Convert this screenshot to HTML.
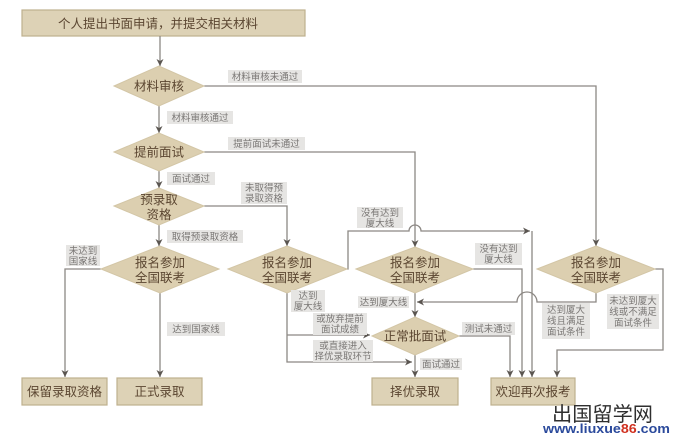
<!DOCTYPE html>
<html><head><meta charset="utf-8"><style>
html,body{margin:0;padding:0;background:#fff;}
svg{display:block;}
text{font-family:"Liberation Sans","Noto Sans CJK SC",sans-serif;}
.d{fill:#dccfb0;stroke:#d3c6a6;stroke-width:1;}
.b{fill:#ddd2b6;stroke:#bfb08e;stroke-width:1.2;}
.t{fill:#5b4631;font-size:12.5px;text-anchor:middle;}
.l{fill:#e6e5e3;}
.lt{fill:#7a7775;font-size:9.5px;text-anchor:middle;}
.ln{fill:none;stroke:#8c8884;stroke-width:1.3;}
</style></head><body>
<svg width="685" height="437" viewBox="0 0 685 437" xmlns="http://www.w3.org/2000/svg">
<defs>
<marker id="a" markerWidth="8" markerHeight="8" refX="7" refY="4" orient="auto" markerUnits="userSpaceOnUse">
<path d="M0,0.5 L7,4 L0,7.5 L2,4z" fill="#5a5550"/>
</marker>
</defs>

<!-- top box -->
<rect class="b" x="22" y="10" width="283" height="26"/>
<text class="t" x="158" y="28" font-size="12.5">个人提出书面申请，并提交相关材料</text>

<!-- connectors -->
<path class="ln" d="M160,36 L160,66" marker-end="url(#a)"/>
<path class="ln" d="M204,86 L596,86 L596,246" marker-end="url(#a)"/>
<path class="ln" d="M159,106 L159,133" marker-end="url(#a)"/>
<path class="ln" d="M204,152 L415,152 L415,247" marker-end="url(#a)"/>
<path class="ln" d="M159,171 L159,188" marker-end="url(#a)"/>
<path class="ln" d="M204,206 L287,206 L287,246" marker-end="url(#a)"/>
<path class="ln" d="M159,225 L159,246" marker-end="url(#a)"/>
<path class="ln" d="M101,269 L65,269 L65,377" marker-end="url(#a)"/>
<path class="ln" d="M160,293 L160,377" marker-end="url(#a)"/>
<path class="ln" d="M347,269 L348,269 L348,231 L409,231 A6,6 0 0 1 421,231 L530,231" marker-end="url(#a)"/>
<path class="ln" d="M532,231 L532,377" marker-end="url(#a)"/>
<path class="ln" d="M287,293 L287,362 L412,362" marker-end="url(#a)"/>
<path class="ln" d="M287,335 L370,335" marker-end="url(#a)"/>
<path class="ln" d="M473,269 L522,269 L522,377" marker-end="url(#a)"/>
<path class="ln" d="M415,293 L415,317" marker-end="url(#a)"/>
<path class="ln" d="M596,293 L596,302 L537,302 A10,10 0 0 0 517,302 L417,302" marker-end="url(#a)"/>
<path class="ln" d="M459,336 L510,336 L510,377" marker-end="url(#a)"/>
<path class="ln" d="M415,355 L415,377" marker-end="url(#a)"/>
<path class="ln" d="M655,269 L663,269 L663,350 L557,350 L557,377" marker-end="url(#a)"/>

<!-- diamonds -->
<polygon class="d" points="114,86 159,66 204,86 159,106"/>
<text class="t" x="159" y="90.5" font-size="12">材料审核</text>
<polygon class="d" points="114,152 159,133 204,152 159,171"/>
<text class="t" x="159" y="156.5" font-size="12">提前面试</text>
<polygon class="d" points="114,206 159,188 204,206 159,225"/>
<text class="t" x="159" y="204">预录取</text>
<text class="t" x="159" y="219">资格</text>
<polygon class="d" points="101,269 160,246 219,269 160,293"/>
<text class="t" x="160" y="267">报名参加</text>
<text class="t" x="160" y="282">全国联考</text>
<polygon class="d" points="228,269 287,246 347,269 287,293"/>
<text class="t" x="287" y="267">报名参加</text>
<text class="t" x="287" y="282">全国联考</text>
<polygon class="d" points="356,269 415,247 473,269 415,293"/>
<text class="t" x="415" y="267">报名参加</text>
<text class="t" x="415" y="282">全国联考</text>
<polygon class="d" points="537,269 596,246 655,269 596,293"/>
<text class="t" x="596" y="267">报名参加</text>
<text class="t" x="596" y="282">全国联考</text>
<polygon class="d" points="372,336 415,317 459,336 415,355"/>
<text class="t" x="415" y="340.5">正常批面试</text>

<!-- boxes -->
<rect class="b" x="22" y="378" width="85" height="27"/>
<text class="t" x="64.5" y="396" font-size="13">保留录取资格</text>
<rect class="b" x="117" y="378" width="85" height="27"/>
<text class="t" x="159.5" y="396" font-size="13">正式录取</text>
<rect class="b" x="372" y="378" width="86" height="27"/>
<text class="t" x="415" y="396" font-size="13">择优录取</text>
<rect class="b" x="491" y="378" width="84" height="27"/>
<text class="t" x="533" y="396" font-size="13">欢迎再次报考</text>

<!-- labels -->
<rect class="l" x="228" y="70" width="74" height="13"/>
<text class="lt" x="265" y="80">材料审核未通过</text>
<rect class="l" x="167" y="111" width="66" height="13"/>
<text class="lt" x="200" y="121">材料审核通过</text>
<rect class="l" x="228" y="137" width="77" height="13"/>
<text class="lt" x="266.5" y="147">提前面试未通过</text>
<rect class="l" x="167" y="172" width="48" height="13"/>
<text class="lt" x="191" y="182">面试通过</text>
<rect class="l" x="241" y="182" width="46" height="22"/>
<text class="lt" x="264" y="191">未取得预</text>
<text class="lt" x="264" y="201.5">录取资格</text>
<rect class="l" x="167" y="230" width="76" height="13"/>
<text class="lt" x="205" y="240">取得预录取资格</text>
<rect class="l" x="66" y="245" width="34" height="21"/>
<text class="lt" x="83" y="254">未达到</text>
<text class="lt" x="83" y="264.5">国家线</text>
<rect class="l" x="167" y="322" width="58" height="14"/>
<text class="lt" x="196" y="332.5">达到国家线</text>
<rect class="l" x="357" y="207" width="46" height="21"/>
<text class="lt" x="380" y="216">没有达到</text>
<text class="lt" x="380" y="226.5">厦大线</text>
<rect class="l" x="475" y="243" width="47" height="22"/>
<text class="lt" x="498.5" y="252">没有达到</text>
<text class="lt" x="498.5" y="262.5">厦大线</text>
<rect class="l" x="291" y="290" width="34" height="22"/>
<text class="lt" x="308" y="299">达到</text>
<text class="lt" x="308" y="309.5">厦大线</text>
<rect class="l" x="313" y="313" width="54" height="22"/>
<text class="lt" x="340" y="322">或放弃提前</text>
<text class="lt" x="340" y="332.5">面试成绩</text>
<rect class="l" x="313" y="340" width="60" height="22"/>
<text class="lt" x="343" y="349">或直接进入</text>
<text class="lt" x="343" y="359.5">择优录取环节</text>
<rect class="l" x="358" y="296" width="51" height="12"/>
<text class="lt" x="383.5" y="305.5">达到厦大线</text>
<rect class="l" x="462" y="322" width="53" height="13"/>
<text class="lt" x="488.5" y="332">测试未通过</text>
<rect class="l" x="420" y="358" width="42" height="12"/>
<text class="lt" x="441" y="367.5">面试通过</text>
<rect class="l" x="542" y="303" width="48" height="36"/>
<text class="lt" x="566" y="313">达到厦大</text>
<text class="lt" x="566" y="324">线且满足</text>
<text class="lt" x="566" y="335">面试条件</text>
<rect class="l" x="607" y="294" width="52" height="35"/>
<text class="lt" x="633" y="304">未达到厦大</text>
<text class="lt" x="633" y="315">线或不满足</text>
<text class="lt" x="633" y="326">面试条件</text>

<!-- watermark -->
<text x="552" y="421" font-size="20" fill="#2f2f2f" textLength="101" lengthAdjust="spacingAndGlyphs">出国留学网</text>
<text x="543" y="433" font-size="12.5" font-weight="bold" fill="#2b4a9c" textLength="127" lengthAdjust="spacingAndGlyphs">www.liuxue<tspan fill="#d0301f">86</tspan>.com</text>
</svg>
</body></html>
